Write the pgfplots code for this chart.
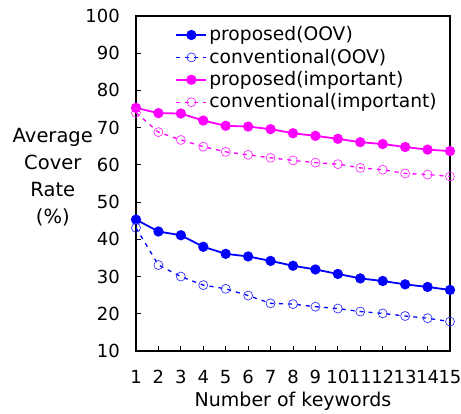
\documentclass[border=0pt]{standalone}
\usepackage{pgfplots}
\pgfplotsset{compat=1.18}
\usepackage{fontspec}
\setmainfont{DejaVu Sans}
\definecolor{cblue}{RGB}{0,0,255}
\definecolor{cmag}{RGB}{255,0,255}
\begin{document}
\begin{tikzpicture}
\fontsize{18bp}{21bp}\selectfont
\begin{axis}[
  name=ax,
  scale only axis,
  width=314bp, height=335bp,
  xmin=1, xmax=15, ymin=10, ymax=100,
  xtick={1,...,15}, ytick={10,20,...,100},
  tick pos=left, tick align=inside,
  major tick length=5bp,
  axis line style={line width=1.6bp},
  tick style={line width=0.8bp, black},
  /pgf/number format/assume math mode=true,
  ticklabel style={font=\fontsize{18bp}{20bp}\selectfont},
  yticklabel style={xshift=-10bp},
  xticklabel style={yshift=-19bp, inner sep=0pt},
  xlabel={Number of keywords},
  xlabel style={at={(axis description cs:0.5,0)}, anchor=north, yshift=-41bp, inner sep=0pt, font=\fontsize{19bp}{21bp}\selectfont},
  ylabel={Average\\Cover\\Rate\\(\%)},
  ylabel style={rotate=-90, align=center, anchor=center, at={(axis description cs:-0.265,0.52)}, font=\fontsize{19.5bp}{27bp}\selectfont},
  legend style={draw=none, fill=none, at={(axis description cs:0.122,0.978)}, anchor=north west, font=\fontsize{18.7bp}{21bp}\selectfont, inner sep=1bp, row sep=1.5bp},
  legend cell align=left,
  legend image code/.code={\draw[mark repeat=2,mark phase=2] plot coordinates {(0bp,0bp)(15bp,0bp)(30bp,0bp)};},
]
\addplot[cblue, line width=1.8bp, mark=*, mark size=4.2bp, mark options={solid, fill=cblue}] coordinates {
(1,45.3)(2,42.1)(3,41.1)(4,38.0)(5,36.1)(6,35.4)(7,34.2)(8,32.9)(9,31.9)(10,30.7)(11,29.5)(12,28.8)(13,27.9)(14,27.2)(15,26.4)};
\addlegendentry{proposed(OOV)}
\addplot[cblue, line width=1.3bp, dash pattern=on 4bp off 5bp, mark=o, mark size=4.5bp, mark options={solid, line width=0.7bp, draw=cblue!80}] coordinates {
(1,43.1)(2,33.1)(3,30.0)(4,27.7)(5,26.7)(6,24.9)(7,22.8)(8,22.6)(9,21.9)(10,21.4)(11,20.6)(12,20.1)(13,19.4)(14,18.8)(15,17.9)};
\addlegendentry{conventional(OOV)}
\addplot[cmag, line width=1.8bp, mark=*, mark size=4.2bp, mark options={solid, fill=cmag}] coordinates {
(1,75.3)(2,73.9)(3,73.8)(4,71.9)(5,70.5)(6,70.3)(7,69.6)(8,68.5)(9,67.8)(10,67.0)(11,66.1)(12,65.6)(13,64.8)(14,64.1)(15,63.7)};
\addlegendentry{proposed(important)}
\addplot[cmag, line width=1.3bp, dash pattern=on 4bp off 5bp, mark=o, mark size=4.5bp, mark options={solid, line width=0.7bp, draw=cmag!80}] coordinates {
(1,74.0)(2,68.8)(3,66.7)(4,64.9)(5,63.5)(6,62.7)(7,61.9)(8,61.2)(9,60.6)(10,60.2)(11,59.2)(12,58.7)(13,57.7)(14,57.4)(15,56.9)};
\addlegendentry{conventional(important)}
\end{axis}
\pgfresetboundingbox
\path[use as bounding box] ([shift={(-136bp,-63bp)}]ax.south west) rectangle ([shift={(11bp,16bp)}]ax.north east);
\end{tikzpicture}
\end{document}
